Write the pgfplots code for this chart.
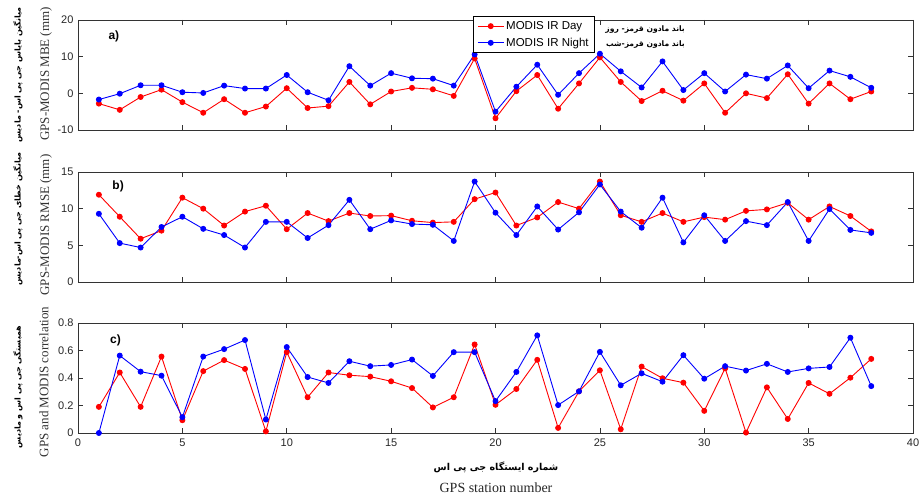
\documentclass[border=0pt]{standalone}
\usepackage{pgfplots}
\pgfplotsset{compat=1.18}
\usepackage{pgfplotstable}
\usepackage{fontspec}
\setmainfont{Liberation Serif}
\newfontfamily\sans{Liberation Sans}
\newfontfamily\arabicfont[Script=Arabic]{DejaVu Sans}
\TeXXeTstate=1

\pgfplotstableread{
n day night
1 -2.8 -1.7
2 -4.5 -0.1
3 -1.0 2.2
4 1.0 2.2
5 -2.4 0.3
6 -5.3 0.1
7 -1.6 2.1
8 -5.3 1.3
9 -3.6 1.3
10 1.4 5.0
11 -4.0 0.3
12 -3.5 -1.9
13 3.1 7.4
14 -3.0 2.1
15 0.5 5.5
16 1.5 4.1
17 1.1 4.0
18 -0.7 2.1
19 9.5 10.6
20 -6.8 -5.0
21 0.6 1.8
22 5.0 7.8
23 -4.2 -0.4
24 2.7 5.5
25 9.8 10.8
26 3.1 6.0
27 -2.1 1.6
28 0.7 8.7
29 -2.0 0.9
30 2.7 5.5
31 -5.3 0.5
32 0.0 5.1
33 -1.3 4.0
34 5.2 7.6
35 -2.8 1.4
36 2.7 6.2
37 -1.6 4.5
38 0.5 1.5
}\tblA

\pgfplotstableread{
n day night
1 11.9 9.3
2 8.9 5.3
3 5.9 4.7
4 7.0 7.5
5 11.5 8.9
6 10.0 7.25
7 7.7 6.4
8 9.6 4.7
9 10.4 8.2
10 7.2 8.2
11 9.4 6.0
12 8.3 7.75
13 9.4 11.2
14 9.0 7.2
15 9.05 8.4
16 8.35 7.9
17 8.1 7.8
18 8.2 5.6
19 11.3 13.7
20 12.2 9.45
21 7.7 6.4
22 8.8 10.3
23 10.9 7.15
24 10.0 9.5
25 13.7 13.3
26 9.1 9.6
27 8.2 7.4
28 9.4 11.5
29 8.2 5.4
30 8.85 9.1
31 8.5 5.6
32 9.7 8.3
33 9.9 7.75
34 10.8 10.9
35 8.5 5.6
36 10.3 9.95
37 9.0 7.1
38 6.9 6.7
}\tblB

\pgfplotstableread{
n day night
1 0.19 0.0
2 0.44 0.563
3 0.19 0.446
4 0.556 0.417
5 0.093 0.115
6 0.45 0.556
7 0.53 0.61
8 0.466 0.676
9 0.012 0.098
10 0.588 0.625
11 0.26 0.407
12 0.44 0.364
13 0.42 0.522
14 0.41 0.486
15 0.376 0.495
16 0.327 0.534
17 0.186 0.415
18 0.26 0.588
19 0.644 0.588
20 0.205 0.232
21 0.32 0.444
22 0.532 0.71
23 0.037 0.203
24 0.303 0.303
25 0.456 0.59
26 0.027 0.347
27 0.483 0.434
28 0.398 0.373
29 0.366 0.566
30 0.161 0.395
31 0.47 0.486
32 0.003 0.454
33 0.332 0.503
34 0.102 0.444
35 0.364 0.47
36 0.285 0.48
37 0.402 0.693
38 0.539 0.341
}\tblC

\pgfplotsset{
  panel/.style={
    scale only axis, width=835pt, height=110pt,
    xmin=0, xmax=40, xtick={0,5,...,40},
    tick align=inside, major tick length=5pt,
    axis line style={black!80, line width=0.6pt},
    tick style={black!80, line width=0.6pt},
    /pgf/number format/assume math mode=true,
    ticklabel style={font=\sans\fontsize{11}{12}\selectfont, text=black!85},
    yticklabel style={xshift=-1pt},
    scaled ticks=false,
    clip=false,
  },
  dayst/.style={red, line width=0.9pt, mark=*, mark size=2.5pt, mark options={solid, fill=red}},
  nightst/.style={blue, line width=0.9pt, mark=*, mark size=2.5pt, mark options={solid, fill=blue}},
}

\begin{document}
\begin{tikzpicture}
\useasboundingbox (0pt,0pt) rectangle (920pt,497pt);

% Panel a
\begin{axis}[panel, at={(78pt,367pt)}, anchor=south west,
  ymin=-10, ymax=20, ytick={-10,0,10,20}, xticklabels={},
  legend style={at={(0.473,1.036)}, anchor=north west, draw=black, line width=0.7pt,
    font=\sans\fontsize{11.5}{13}\selectfont, inner xsep=4pt, inner ysep=3pt, row sep=3pt,
    cells={anchor=west}, fill=white},
  legend image code/.code={\draw[#1, mark repeat=2, mark phase=2] plot coordinates {(0pt,0pt) (13pt,0pt) (26pt,0pt)};},
]
\addplot[dayst] table[x=n,y=day] {\tblA};
\addlegendentry{MODIS IR Day}
\addplot[nightst] table[x=n,y=night] {\tblA};
\addlegendentry{MODIS IR Night}
\node[font=\sans\bfseries\fontsize{12}{12}\selectfont] at (rel axis cs:0.043,0.85) {a)};
\end{axis}

% Panel b
\begin{axis}[panel, at={(78pt,215pt)}, anchor=south west,
  ymin=0, ymax=15, ytick={0,5,10,15}, xticklabels={}]
\addplot[dayst] table[x=n,y=day] {\tblB};
\addplot[nightst] table[x=n,y=night] {\tblB};
\node[font=\sans\bfseries\fontsize{12}{12}\selectfont] at (rel axis cs:0.048,0.866) {b)};
\end{axis}

% Panel c
\begin{axis}[panel, at={(78pt,64pt)}, anchor=south west,
  ymin=0, ymax=0.8, ytick={0,0.2,0.4,0.6,0.8},
  yticklabel style={/pgf/number format/fixed},
  xticklabel style={yshift=-2pt}]
\addplot[dayst] table[x=n,y=day] {\tblC};
\addplot[nightst] table[x=n,y=night] {\tblC};
\node[font=\sans\bfseries\fontsize{12}{12}\selectfont] at (rel axis cs:0.045,0.84) {c)};
\end{axis}

% Persian legend annotations
\node[anchor=east, font=\arabicfont\bfseries\fontsize{7.6}{9}\selectfont, inner sep=0pt] at (685pt,467pt) {\beginR باند مادون قرمز- روز\endR};
\node[anchor=east, font=\arabicfont\bfseries\fontsize{7.6}{9}\selectfont, inner sep=0pt] at (685pt,452pt) {\beginR باند مادون قرمز-شب\endR};

% English y labels
\node[rotate=90, font=\fontsize{13}{13}\selectfont, text=black!80] at (46pt,423pt) {GPS-MODIS MBE (mm)};
\node[rotate=90, font=\fontsize{13}{13}\selectfont, text=black!80] at (46pt,272pt) {GPS-MODIS RMSE (mm)};
\node[rotate=90, font=\fontsize{13}{13}\selectfont, text=black!80] at (44pt,115pt) {GPS and MODIS correlation};

% Persian y labels
\node[rotate=90, font=\arabicfont\bfseries\fontsize{8}{9}\selectfont] at (18pt,422pt) {\beginR میانگین بایاس جی پی اس- مادیس\endR};
\node[rotate=90, font=\arabicfont\bfseries\fontsize{8}{9}\selectfont] at (18pt,278pt) {\beginR میانگین خطای جی پی اس-مادیس\endR};
\node[rotate=90, font=\arabicfont\bfseries\fontsize{8}{9}\selectfont] at (18pt,110pt) {\beginR همبستگی جی پی اس و مادیس\endR};

% x labels
\node[font=\arabicfont\bfseries\fontsize{9.5}{10}\selectfont] at (496pt,30pt) {\beginR شماره ایستگاه جی پی اس\endR};
\node[font=\fontsize{14}{14}\selectfont, text=black!85] at (496pt,9pt) {GPS station number};
\end{tikzpicture}
\end{document}
